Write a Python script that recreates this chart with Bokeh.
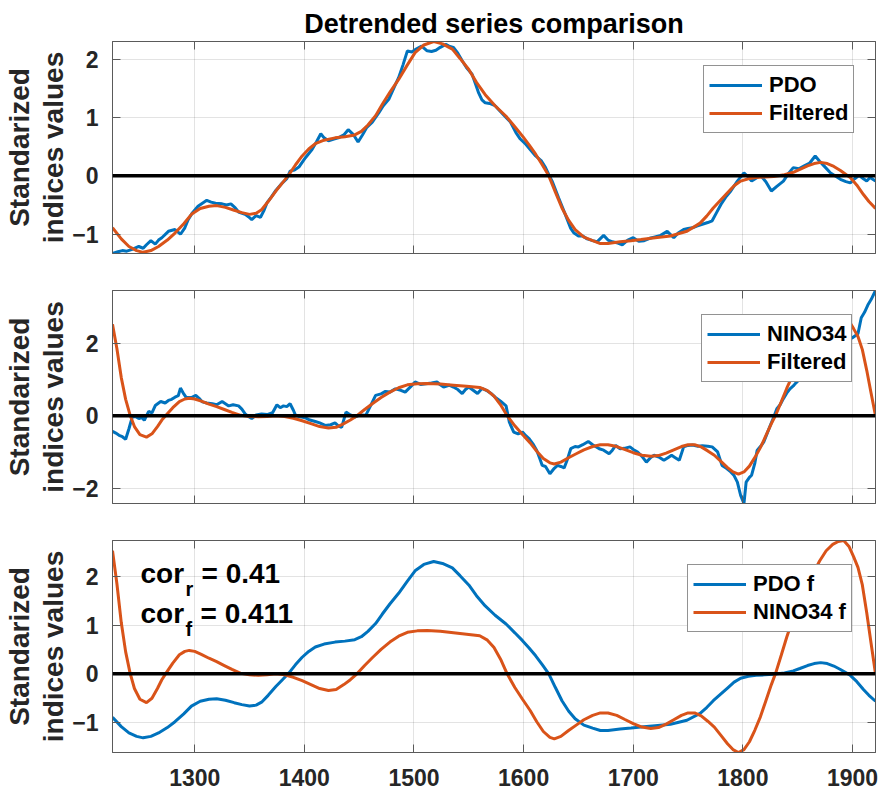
from bokeh.plotting import figure
from bokeh.layouts import column
from bokeh.models import Range1d, FixedTicker, LinearAxis, Span, Label, Legend
from bokeh.embed import file_html
from bokeh.resources import INLINE

# ---------------- data ----------------
x_ticks = [1300, 1400, 1500, 1600, 1700, 1800, 1900]
y_ticks_pdo = [-1, 0, 1, 2]
y_ticks_nino = [-2, 0, 2]
y_ticks_both = [-1, 0, 1, 2]

title_text = "Detrended series comparison"
ylabel_text = "Standarized\nindices values"
legend_pdo = ["PDO", "Filtered"]
legend_nino = ["NINO34", "Filtered"]
legend_both = ["PDO f", "NINO34 f"]
cor_r_value = "0.41"
cor_f_value = "0.411"

pdo_years = [1225, 1230, 1234, 1238, 1243, 1249, 1253, 1256, 1260, 1264, 1267, 1270, 1276, 1282,
             1287, 1291, 1294, 1298, 1303, 1307, 1311, 1315, 1319, 1325, 1329, 1333, 1337, 1340,
             1346, 1349, 1352, 1356, 1360, 1363, 1366, 1370, 1374, 1380, 1384, 1387, 1391, 1395,
             1401, 1407, 1411, 1415, 1418, 1422, 1427, 1431, 1436, 1440, 1445, 1449, 1453, 1457,
             1462, 1468, 1472, 1477, 1482, 1486, 1490, 1494, 1498, 1502, 1507, 1512, 1516, 1520,
             1524, 1529, 1532, 1536, 1540, 1544, 1548, 1553, 1556, 1559, 1562, 1565, 1569, 1574,
             1578, 1584, 1588, 1593, 1597, 1602, 1606, 1611, 1616, 1620, 1623, 1626, 1632, 1638,
             1643, 1646, 1650, 1654, 1658, 1663, 1667, 1673, 1677, 1681, 1686, 1690, 1695, 1700,
             1705, 1710, 1715, 1719, 1725, 1731, 1737, 1741, 1746, 1750, 1754, 1758, 1763, 1768,
             1772, 1776, 1780, 1785, 1789, 1795, 1801, 1805, 1808, 1812, 1816, 1821, 1826, 1831,
             1837, 1842, 1846, 1851, 1856, 1861, 1866, 1870, 1874, 1880, 1884, 1889, 1894, 1898,
             1902, 1906, 1910, 1913, 1916, 1921]
pdo_raw = [-1.33, -1.30, -1.28, -1.29, -1.26, -1.21, -1.24, -1.18, -1.11, -1.17, -1.10, -1.06, -0.95, -0.92,
           -1.00, -0.89, -0.75, -0.63, -0.52, -0.47, -0.42, -0.45, -0.47, -0.48, -0.50, -0.48, -0.55, -0.62,
           -0.66, -0.70, -0.75, -0.68, -0.71, -0.60, -0.46, -0.36, -0.25, -0.12, -0.05, 0.08, 0.10, 0.15,
           0.31, 0.45, 0.58, 0.72, 0.65, 0.60, 0.63, 0.65, 0.70, 0.79, 0.70, 0.58, 0.70, 0.83,
           0.92, 1.08, 1.20, 1.31, 1.52, 1.68, 1.90, 2.14, 2.12, 2.17, 2.22, 2.14, 2.13, 2.15,
           2.20, 2.25, 2.22, 2.20, 2.10, 1.97, 1.85, 1.74, 1.58, 1.42, 1.30, 1.25, 1.24, 1.20,
           1.12, 1.00, 0.92, 0.74, 0.63, 0.54, 0.45, 0.34, 0.26, 0.14, 0.02, -0.09, -0.38, -0.66,
           -0.90, -0.98, -1.03, -1.03, -1.08, -1.11, -1.13, -1.02, -1.10, -1.13, -1.15, -1.18, -1.10, -1.06,
           -1.12, -1.11, -1.07, -1.05, -1.02, -0.95, -1.06, -0.98, -0.92, -0.90, -0.89, -0.86, -0.83, -0.80,
           -0.77, -0.63, -0.49, -0.35, -0.26, -0.09, 0.05, -0.02, -0.09, -0.04, 0.01, -0.10, -0.26, -0.18,
           -0.09, 0.05, 0.14, 0.12, 0.17, 0.22, 0.34, 0.25, 0.17, 0.05, 0.00, -0.06, -0.10, -0.12,
           -0.05, 0.01, -0.05, -0.09, -0.03, -0.09]

pdo_f_years = [1225, 1233, 1240, 1247, 1253, 1260, 1267, 1275, 1282, 1290, 1297, 1305, 1313, 1320,
               1328, 1336, 1343, 1350, 1356, 1361, 1367, 1374, 1380, 1386, 1392, 1398, 1404, 1410,
               1418, 1428, 1437, 1446, 1452, 1458, 1465, 1471, 1478, 1486, 1494, 1501, 1509, 1518,
               1526, 1535, 1542, 1550, 1557, 1565, 1574, 1584, 1592, 1599, 1605, 1611, 1617, 1623,
               1629, 1635, 1641, 1647, 1655, 1663, 1670, 1677, 1688, 1698, 1707, 1720, 1734, 1749,
               1761, 1767, 1773, 1780, 1786, 1792, 1798, 1805, 1812, 1820, 1828, 1838, 1846, 1852,
               1859, 1865, 1871, 1877, 1883, 1889, 1895, 1898, 1904, 1910, 1915, 1921]
pdo_filt = [-0.89, -1.08, -1.21, -1.28, -1.31, -1.28, -1.21, -1.10, -0.98, -0.82, -0.66, -0.56, -0.52, -0.51,
            -0.54, -0.59, -0.63, -0.66, -0.64, -0.58, -0.44, -0.26, -0.12, 0.02, 0.19, 0.34, 0.46, 0.55,
            0.61, 0.65, 0.67, 0.70, 0.76, 0.87, 1.03, 1.22, 1.43, 1.65, 1.90, 2.11, 2.24, 2.30,
            2.26, 2.17, 2.01, 1.82, 1.60, 1.39, 1.20, 1.02, 0.84, 0.68, 0.53, 0.37, 0.19, 0.00,
            -0.28, -0.55, -0.76, -0.92, -1.05, -1.11, -1.16, -1.16, -1.13, -1.11, -1.09, -1.06, -1.03, -0.95,
            -0.81, -0.69, -0.55, -0.41, -0.29, -0.17, -0.09, -0.05, -0.03, -0.02, -0.01, 0.02, 0.06, 0.11,
            0.17, 0.21, 0.23, 0.21, 0.16, 0.09, 0.01, -0.03, -0.16, -0.32, -0.44, -0.56]

nino_years = [1225, 1228, 1231, 1234, 1237, 1240, 1243, 1246, 1249, 1252, 1254, 1258, 1261, 1264,
              1269, 1273, 1276, 1279, 1282, 1285, 1287, 1290, 1292, 1297, 1301, 1304, 1307, 1311,
              1316, 1320, 1325, 1328, 1331, 1335, 1340, 1343, 1346, 1349, 1352, 1356, 1361, 1366,
              1371, 1375, 1378, 1381, 1384, 1387, 1390, 1392, 1396, 1401, 1405, 1410, 1414, 1419,
              1424, 1428, 1431, 1434, 1438, 1442, 1446, 1451, 1456, 1460, 1465, 1470, 1474, 1478,
              1483, 1488, 1492, 1497, 1501, 1506, 1511, 1516, 1521, 1524, 1527, 1532, 1536, 1540,
              1544, 1547, 1550, 1554, 1558, 1562, 1566, 1570, 1574, 1579, 1584, 1587, 1591, 1595,
              1599, 1602, 1605, 1609, 1612, 1615, 1617, 1620, 1624, 1628, 1631, 1634, 1637, 1640,
              1643, 1647, 1650, 1654, 1659, 1663, 1669, 1673, 1678, 1681, 1684, 1688, 1692, 1697,
              1700, 1704, 1708, 1712, 1716, 1719, 1724, 1728, 1732, 1735, 1738, 1742, 1746, 1750,
              1754, 1759, 1763, 1768, 1772, 1777, 1781, 1785, 1789, 1792, 1795, 1798, 1801, 1803,
              1806, 1808, 1811, 1813, 1816, 1819, 1822, 1825, 1828, 1831, 1834, 1837, 1840, 1843,
              1846, 1848, 1855, 1862, 1870, 1878, 1886, 1894, 1900, 1905, 1908, 1911, 1914, 1917,
              1921]
nino_raw = [-0.43, -0.48, -0.54, -0.58, -0.65, -0.36, -0.04, -0.02, -0.08, -0.05, -0.13, 0.12, 0.08, 0.28,
            0.39, 0.35, 0.42, 0.45, 0.51, 0.55, 0.76, 0.60, 0.51, 0.50, 0.56, 0.48, 0.38, 0.35,
            0.33, 0.30, 0.39, 0.33, 0.27, 0.30, 0.27, 0.18, 0.05, -0.02, -0.08, 0.02, 0.05, 0.03,
            0.08, 0.30, 0.22, 0.27, 0.25, 0.33, 0.15, 0.01, -0.03, -0.06, -0.12, -0.16, -0.20, -0.27,
            -0.25, -0.20, -0.28, -0.32, 0.10, 0.02, -0.04, 0.02, 0.01, 0.25, 0.56, 0.60, 0.67, 0.65,
            0.74, 0.70, 0.65, 0.80, 0.93, 0.86, 0.88, 0.90, 0.93, 0.85, 0.79, 0.84, 0.79, 0.72,
            0.61, 0.72, 0.79, 0.70, 0.61, 0.75, 0.70, 0.62, 0.51, 0.40, 0.27, -0.18, -0.45, -0.50,
            -0.45, -0.55, -0.63, -0.80, -0.96, -1.20, -1.37, -1.40, -1.60, -1.45, -1.37, -1.40, -1.44, -1.20,
            -0.91, -0.85, -0.86, -0.80, -0.71, -0.80, -0.91, -0.95, -1.05, -0.95, -0.82, -0.91, -0.90, -0.86,
            -0.93, -1.00, -1.12, -1.28, -1.15, -1.09, -1.15, -1.23, -1.15, -1.09, -1.15, -1.23, -0.86, -0.82,
            -0.81, -0.84, -0.83, -0.84, -0.86, -1.00, -1.37, -1.45, -1.55, -1.65, -1.83, -2.20, -2.42, -1.83,
            -1.70, -1.64, -1.30, -0.96, -0.85, -0.73, -0.50, -0.27, -0.05, 0.19, 0.30, 0.47, 0.62, 0.74,
            0.82, 0.89, 1.10, 1.35, 1.60, 1.80, 1.95, 2.05, 2.15, 2.26, 2.70, 2.85, 3.05, 3.20,
            3.45]

nino_f_years = [1225, 1229, 1233, 1237, 1241, 1245, 1250, 1256, 1261, 1266, 1270, 1274, 1280, 1286,
                1291, 1295, 1300, 1306, 1313, 1320, 1327, 1334, 1342, 1350, 1358, 1366, 1374, 1382,
                1390, 1398, 1406, 1414, 1422, 1429, 1436, 1442, 1448, 1455, 1462, 1470, 1478, 1486,
                1494, 1503, 1512, 1524, 1536, 1548, 1560, 1567, 1573, 1579, 1585, 1592, 1599, 1606,
                1612, 1618, 1624, 1628, 1634, 1641, 1648, 1655, 1663, 1670, 1677, 1685, 1692, 1700,
                1708, 1716, 1723, 1730, 1737, 1744, 1750, 1756, 1762, 1768, 1774, 1780, 1786, 1791,
                1796, 1801, 1806, 1811, 1816, 1821, 1826, 1830, 1835, 1840, 1846, 1852, 1858, 1864,
                1870, 1876, 1882, 1887, 1892, 1897, 1901, 1905, 1909, 1913, 1917, 1921]
nino_filt = [2.52, 1.85, 1.05, 0.45, 0.02, -0.30, -0.52, -0.59, -0.50, -0.30, -0.12, 0.02, 0.22, 0.39,
             0.46, 0.48, 0.46, 0.40, 0.32, 0.25, 0.17, 0.09, 0.01, -0.02, -0.03, -0.02, 0.00, -0.02,
             -0.07, -0.14, -0.22, -0.30, -0.34, -0.32, -0.22, -0.12, 0.00, 0.17, 0.33, 0.50, 0.65, 0.77,
             0.85, 0.88, 0.89, 0.87, 0.84, 0.81, 0.78, 0.69, 0.54, 0.30, 0.00, -0.28, -0.52, -0.75,
             -0.98, -1.18, -1.30, -1.33, -1.28, -1.16, -1.05, -0.94, -0.85, -0.80, -0.80, -0.85, -0.93, -1.02,
             -1.09, -1.12, -1.10, -1.03, -0.94, -0.85, -0.80, -0.80, -0.86, -0.97, -1.09, -1.26, -1.43, -1.55,
             -1.61, -1.55, -1.39, -1.15, -0.88, -0.55, -0.22, 0.02, 0.38, 0.75, 1.15, 1.48, 1.72, 2.05,
             2.31, 2.52, 2.65, 2.71, 2.73, 2.60, 2.40, 2.18, 1.82, 1.25, 0.62, 0.00]

# ---------------- styling ----------------
FONT = "Liberation Sans"
BLUE = "#0072BD"
ORANGE = "#D95319"
FRAME = "#5a5a5a"
TEXT = "#262626"
FRAME_W = 763

x_lo = min(pdo_years[0], nino_years[0])
x_hi = max(pdo_years[-1], nino_years[-1])


def style_axis(ax, ticks, font_px):
    ax.ticker = FixedTicker(ticks=ticks)
    ax.major_tick_in = 8
    ax.major_tick_out = 0
    ax.minor_tick_in = 0
    ax.minor_tick_out = 0
    ax.axis_line_color = FRAME
    ax.major_tick_line_color = FRAME
    ax.major_label_text_font = FONT
    ax.major_label_text_font_style = "bold"
    ax.major_label_text_color = TEXT
    ax.major_label_text_font_size = font_px


def make_panel(frame_h, top, bottom, ys, yticks, xlabels, title=None):
    ymin = min(min(y) for y in ys)
    ymax = max(max(y) for y in ys)
    kw = dict(title=title) if title else {}
    p = figure(frame_width=FRAME_W, frame_height=frame_h,
               x_range=Range1d(x_lo, x_hi), y_range=Range1d(ymin, ymax),
               output_backend="svg", toolbar_location=None,
               min_border_left=112, min_border_right=6, min_border_top=top,
               min_border_bottom=bottom, **kw)
    p.outline_line_color = FRAME
    p.outline_line_width = 1
    p.background_fill_color = "white"
    p.border_fill_color = "white"
    for g in (p.xgrid, p.ygrid):
        g.grid_line_color = TEXT
        g.grid_line_alpha = 0.13
        g.grid_line_width = 1
    p.xgrid.ticker = FixedTicker(ticks=x_ticks)
    p.ygrid.ticker = FixedTicker(ticks=yticks)

    style_axis(p.xaxis[0], x_ticks, "23px" if xlabels else "0px")
    p.xaxis.major_label_standoff = 16 if xlabels else 0
    style_axis(p.yaxis[0], yticks, "23px")
    p.yaxis.major_label_standoff = 14
    p.yaxis.axis_label = ylabel_text
    p.yaxis.axis_label_text_font = FONT
    p.yaxis.axis_label_text_font_style = "bold"
    p.yaxis.axis_label_text_font_size = "28px"
    p.yaxis.axis_label_text_color = TEXT
    p.yaxis.axis_label_text_line_height = 1.1
    p.yaxis.axis_label_standoff = 0

    ax_r = LinearAxis()
    style_axis(ax_r, yticks, "0px")
    ax_r.major_label_standoff = 0
    p.add_layout(ax_r, "right")
    ax_t = LinearAxis()
    style_axis(ax_t, x_ticks, "0px")
    ax_t.major_label_standoff = 0
    p.add_layout(ax_t, "above")

    if title:
        p.title.text_font = FONT
        p.title.text_font_style = "bold"
        p.title.text_font_size = "27px"
        p.title.text_color = "black"
        p.title.align = "center"
        p.title.standoff = 6
    return p


def add_legend(p, items, loc):
    lg = Legend(items=items, location=loc)
    lg.label_text_font = FONT
    lg.label_text_font_style = "bold"
    lg.label_text_font_size = "22px"
    lg.label_text_color = "black"
    lg.glyph_width = 53
    lg.glyph_height = 28
    lg.label_standoff = 7
    lg.padding = 5
    lg.spacing = 0
    lg.margin = 0
    lg.border_line_color = TEXT
    lg.border_line_width = 1
    lg.background_fill_color = "white"
    lg.background_fill_alpha = 1.0
    p.add_layout(lg)


def zero_line(p):
    p.add_layout(Span(location=0, dimension="width", line_color="black", line_width=3.5))


# Panel 1: PDO
p1 = make_panel(212, 41, 17, [pdo_raw, pdo_filt], y_ticks_pdo, False, title=title_text)
a = p1.line(pdo_years, pdo_raw, line_color=BLUE, line_width=3)
b = p1.line(pdo_f_years, pdo_filt, line_color=ORANGE, line_width=3)
zero_line(p1)
add_legend(p1, [(legend_pdo[0], [a]), (legend_pdo[1], [b])], (591, 120))

# Panel 2: NINO34
p2 = make_panel(213, 20, 17, [nino_raw, nino_filt], y_ticks_nino, False)
a = p2.line(nino_years, nino_raw, line_color=BLUE, line_width=3)
b = p2.line(nino_f_years, nino_filt, line_color=ORANGE, line_width=3)
zero_line(p2)
add_legend(p2, [(legend_nino[0], [a]), (legend_nino[1], [b])], (589, 121))

# Panel 3: filtered comparison
p3 = make_panel(212, 20, 42, [pdo_filt, nino_filt], y_ticks_both, True)
a = p3.line(pdo_f_years, pdo_filt, line_color=BLUE, line_width=3)
b = p3.line(nino_f_years, nino_filt, line_color=ORANGE, line_width=3)
zero_line(p3)
add_legend(p3, [(legend_both[0], [a]), (legend_both[1], [b])], (575, 120))


def txt(p, x, y, s, size):
    p.add_layout(Label(x=x, y=y, x_units="screen", y_units="screen", text=s,
                       text_font=FONT, text_font_style="bold", text_font_size=size,
                       text_color="black", text_baseline="alphabetic"))


txt(p3, 28, 179, "cor", "28px")
txt(p3, 73, 164, "r", "20px")
txt(p3, 89, 179, "= " + cor_r_value, "28px")
txt(p3, 28, 139, "cor", "28px")
txt(p3, 73, 124, "f", "20px")
txt(p3, 88, 139, "= " + cor_f_value, "28px")

layout = column(p1, p2, p3, spacing=0)
open("out.html", "w").write(file_html(layout, INLINE))
